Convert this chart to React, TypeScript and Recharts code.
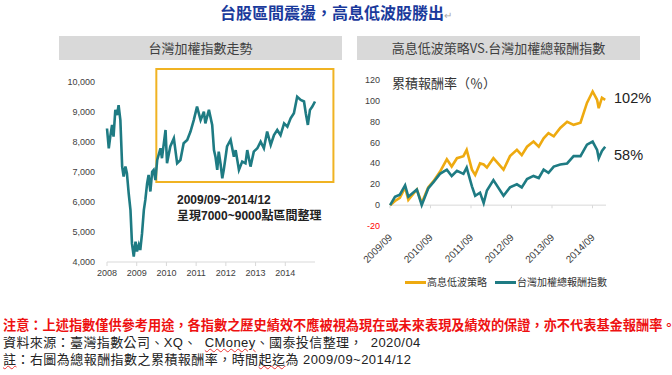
import React from 'react';
import { LineChart, Line, XAxis, YAxis, ReferenceArea, ReferenceLine } from 'recharts';

const TEAL = '#1e7b83';
const ORANGE = '#eeaa10';
const BOX = '#f0b323';
const CJK = '"Noto Sans CJK TC", "Noto Sans", sans-serif';
const LAT = '"Liberation Sans", "Noto Sans CJK TC", sans-serif';

// ---- Left chart: TAIEX level ----
const indexDates = [
  2008.0, 2008.06, 2008.11, 2008.17, 2008.22, 2008.28, 2008.34, 2008.39, 2008.45, 2008.51,
  2008.56, 2008.62, 2008.67, 2008.73, 2008.79, 2008.84, 2008.9, 2008.96, 2009.01, 2009.07,
  2009.12, 2009.18, 2009.24, 2009.29, 2009.35, 2009.4, 2009.46, 2009.52, 2009.57, 2009.63,
  2009.69, 2009.8, 2009.85, 2009.97, 2010.02, 2010.13, 2010.25, 2010.36, 2010.47, 2010.58,
  2010.7, 2010.81, 2010.92, 2011.03, 2011.15, 2011.26, 2011.31, 2011.43, 2011.54, 2011.6,
  2011.65, 2011.71, 2011.76, 2011.82, 2011.88, 2011.93, 2012.04, 2012.16, 2012.27, 2012.33,
  2012.44, 2012.55, 2012.66, 2012.72, 2012.83, 2012.94, 2013.06, 2013.17, 2013.28, 2013.39,
  2013.51, 2013.62, 2013.73, 2013.84, 2013.96, 2014.07, 2014.18, 2014.29, 2014.4, 2014.52,
  2014.63, 2014.69, 2014.76, 2014.83, 2014.91, 2015.0,
];
const indexValues = [
  8450, 7790, 8180, 8570, 8180, 9070, 8900, 9230, 8730, 7180,
  6850, 7180, 6960, 6290, 5730, 4620, 4180, 4680, 4350, 4570,
  4400, 4960, 5730, 6070, 6620, 6900, 6350, 7010, 7070, 6730,
  7400, 7790, 7460, 8400, 7290, 7850, 8120, 7290, 7400, 7960,
  8070, 8350, 8730, 9180, 8730, 9010, 8620, 9070, 8570, 7730,
  7510, 7070, 7680, 7290, 6790, 7070, 7850, 8070, 7510, 7730,
  7070, 7350, 7290, 7730, 7180, 7680, 7790, 8010, 7790, 8350,
  7900, 8230, 8400, 8230, 8620, 8510, 8790, 8960, 9510, 9400,
  9350, 8960, 8570, 9070, 9180, 9350,
];
const indexYearTicks = [2008, 2009, 2010, 2011, 2012, 2013, 2014];
const indexValueTicks = [4000, 5000, 6000, 7000, 8000, 9000, 10000];
const rangeStart = 2009.66;
const rangeEnd = 2015.62;
const rangeLow = 6667;
const rangeHigh = 10433;

// ---- Right chart: cumulative returns (%) ----
const returnDates = [
  2009.67, 2009.79, 2009.91, 2010.04, 2010.12, 2010.33, 2010.45, 2010.61, 2010.74, 2010.9,
  2011.07, 2011.19, 2011.32, 2011.48, 2011.56, 2011.69, 2011.77, 2011.89, 2011.98, 2012.06,
  2012.22, 2012.47, 2012.63, 2012.8, 2012.92, 2013.05, 2013.21, 2013.34, 2013.46, 2013.58,
  2013.71, 2013.87, 2014.04, 2014.2, 2014.37, 2014.53, 2014.67, 2014.78, 2014.82, 2014.9,
  2014.98,
];
const strategyReturns = [
  0, 4, 7, 17, 5, 15, 2, 17, 23, 32,
  44, 37, 45, 47, 53, 34, 29, 40, 39, 36,
  45, 34, 47, 53, 48, 56, 61, 56, 64, 69,
  66, 74, 80, 77, 79, 98, 109, 101, 93, 103,
  101,
];
const benchmarkReturns = [
  0, 8, 10, 19, 8, 15, 0, 16, 22, 30,
  34, 28, 33, 30, 36, 18, 9, 12, 2, 14,
  24, 9, 17, 20, 17, 25, 28, 26, 34, 31,
  37, 39, 40, 47, 47, 58, 61, 53, 45, 52,
  56,
];
const returnDateTicks = [2009.667, 2010.667, 2011.667, 2012.667, 2013.667, 2014.667];
const returnDateLabels = ['2009/09', '2010/09', '2011/09', '2012/09', '2013/09', '2014/09'];
const returnValueTicks = [-20, 0, 20, 40, 60, 80, 100, 120];

const seriesNames = ['高息低波策略', '台灣加權總報酬指數'];
const endLabels = ['102%', '58%'];

const indexData = indexDates.map((t, i) => ({ t, v: indexValues[i] }));
const returnData = returnDates.map((t, i) => ({ t, s: strategyReturns[i], b: benchmarkReturns[i] }));

const RightXTick = (props: any) => {
  const { x, y, index } = props;
  const ax = x + 3;
  const ay = y + 12;
  return (
    <text x={ax} y={ay} textAnchor="end" fontSize={10} fill="#404040" fontFamily={LAT}
      transform={`rotate(-45 ${ax} ${ay})`}>
      {returnDateLabels[index]}
    </text>
  );
};

const RightYTick = (props: any) => {
  const { x, y, payload } = props;
  return (
    <text x={x} y={y} dy={3} textAnchor="end" fontSize={9} fontFamily={LAT}
      fill={payload.value < 0 ? '#ff0000' : '#404040'}>
      {payload.value}
    </text>
  );
};

const wavy = { textDecoration: 'underline wavy #e33', textDecorationThickness: 1 } as React.CSSProperties;

export default function App() {
  return (
    <div style={{ position: 'absolute', left: 0, top: 0, width: 672, height: 375, background: '#fff', overflow: 'hidden', fontFamily: CJK }}>
      {/* Title */}
      <div style={{ position: 'absolute', left: 220, top: 2, height: 20, lineHeight: '20px', fontSize: 16, fontWeight: 700, color: '#1a3a9c', whiteSpace: 'nowrap' }}>
        台股區間震盪，高息低波股勝出<span style={{ color: '#aaa', fontSize: 10, fontWeight: 400 }}>↵</span>
      </div>

      {/* Panel headers */}
      <div style={{ position: 'absolute', left: 59, top: 36, width: 283, height: 24, lineHeight: '24px', background: '#d9d9d9', textAlign: 'center', fontSize: 13, color: '#404040' }}>
        台灣加權指數走勢
      </div>
      <div style={{ position: 'absolute', left: 357, top: 36, width: 283, height: 24, lineHeight: '24px', background: '#d9d9d9', textAlign: 'center', fontSize: 13, color: '#404040' }}>
        高息低波策略VS.台灣加權總報酬指數
      </div>

      {/* Left chart */}
      <div style={{ position: 'absolute', left: 50, top: 60 }}>
        <LineChart width={290} height={230} data={indexData} margin={{ top: 22, right: 25, bottom: 0, left: 7 }}>
          <XAxis dataKey="t" type="number" domain={[2008, 2015]} ticks={indexYearTicks} interval={0}
            height={28} axisLine={{ stroke: '#d9d9d9' }} tickLine={{ stroke: '#d9d9d9' }} tickSize={4} tickMargin={4}
            tick={{ fontSize: 9, fill: '#404040', fontFamily: LAT }} />
          <YAxis type="number" domain={[4000, 10000]} ticks={indexValueTicks} interval={0} width={50}
            axisLine={false} tickLine={false} tickMargin={6}
            tickFormatter={(v: number) => v.toLocaleString('en-US')}
            tick={{ fontSize: 9, fill: '#404040', fontFamily: LAT }} />
          <Line dataKey="v" stroke={TEAL} strokeWidth={2.6} dot={false} isAnimationActive={false} />
          <ReferenceArea x1={rangeStart} x2={rangeEnd} y1={rangeLow} y2={rangeHigh} ifOverflow="visible"
            fill="none" fillOpacity={0} stroke={BOX} strokeWidth={2} />
        </LineChart>
      </div>
      <div style={{ position: 'absolute', left: 177, top: 192, lineHeight: '17px', fontSize: 12, fontWeight: 700, color: '#222', fontFamily: LAT, whiteSpace: 'nowrap' }}>
        2009/09~2014/12
      </div>
      <div style={{ position: 'absolute', left: 177, top: 208, lineHeight: '17px', fontSize: 12, fontWeight: 700, color: '#222', fontFamily: LAT, whiteSpace: 'nowrap' }}>
        呈現7000~9000點區間整理
      </div>

      {/* Right chart */}
      <div style={{ position: 'absolute', left: 340, top: 60 }}>
        <LineChart width={330} height={230} data={returnData} margin={{ top: 20, right: 64, bottom: 0, left: 0 }}>
          <XAxis dataKey="t" type="number" domain={[2009.667, 2015]} ticks={returnDateTicks} interval={0}
            height={64} axisLine={false} tickLine={false} tickSize={0} tickMargin={0} tick={RightXTick} />
          <YAxis type="number" domain={[-20, 120]} ticks={returnValueTicks} interval={0} width={50}
            axisLine={false} tickLine={false} tickMargin={4} tick={RightYTick} />
          <ReferenceLine y={0} stroke="#d9d9d9" strokeWidth={1} />
          {returnDateTicks.map((t) => (
            <ReferenceLine key={t} segment={[{ x: t, y: 0 }, { x: t, y: -3 }]} stroke="#d9d9d9" ifOverflow="visible" />
          ))}
          <Line dataKey="s" stroke={ORANGE} strokeWidth={2.6} dot={false} isAnimationActive={false} />
          <Line dataKey="b" stroke={TEAL} strokeWidth={2.6} dot={false} isAnimationActive={false} />
        </LineChart>
      </div>
      <div style={{ position: 'absolute', left: 392, top: 74, lineHeight: '18px', fontSize: 13, color: '#333', whiteSpace: 'nowrap' }}>
        累積報酬率（％）
      </div>
      <div style={{ position: 'absolute', left: 614, top: 89, lineHeight: '18px', fontSize: 14.5, color: '#222', fontFamily: LAT }}>
        {endLabels[0]}
      </div>
      <div style={{ position: 'absolute', left: 614, top: 146, lineHeight: '18px', fontSize: 14.5, color: '#222', fontFamily: LAT }}>
        {endLabels[1]}
      </div>

      {/* Legend */}
      <div style={{ position: 'absolute', left: 405, top: 281, width: 21, height: 3, background: ORANGE }} />
      <div style={{ position: 'absolute', left: 427, top: 275, lineHeight: '14px', fontSize: 10, color: '#333', whiteSpace: 'nowrap' }}>
        {seriesNames[0]}
      </div>
      <div style={{ position: 'absolute', left: 495, top: 281, width: 21, height: 3, background: TEAL }} />
      <div style={{ position: 'absolute', left: 517, top: 275, lineHeight: '14px', fontSize: 10, color: '#333', whiteSpace: 'nowrap' }}>
        {seriesNames[1]}
      </div>

      {/* Footer */}
      <div style={{ position: 'absolute', left: 3, top: 316, lineHeight: '18px', fontSize: 13.2, fontWeight: 700, color: '#ee1111', whiteSpace: 'nowrap' }}>
        注意：上述指數僅供參考用途，各指數之歷史績效不應被視為現在或未來表現及績效的保證，亦不代表基金報酬率。
      </div>
      <div style={{ position: 'absolute', left: 3, top: 335, lineHeight: '16px', fontSize: 13, letterSpacing: 0.4, color: '#222', whiteSpace: 'nowrap', fontFamily: LAT }}>
        資料來源：臺灣指數公司、XQ、&nbsp;&nbsp;<span style={wavy}>CMoney</span>、國泰投信整理，&nbsp;&nbsp;2020/04
      </div>
      <div style={{ position: 'absolute', left: 3, top: 352, lineHeight: '16px', fontSize: 13, letterSpacing: 0.45, color: '#222', whiteSpace: 'nowrap', fontFamily: LAT }}>
        <span style={wavy}>註</span>：右圖為總報酬指數之累積報酬率，時間<span style={wavy}>起迄</span>為 2009/09~2014/12
      </div>
    </div>
  );
}
